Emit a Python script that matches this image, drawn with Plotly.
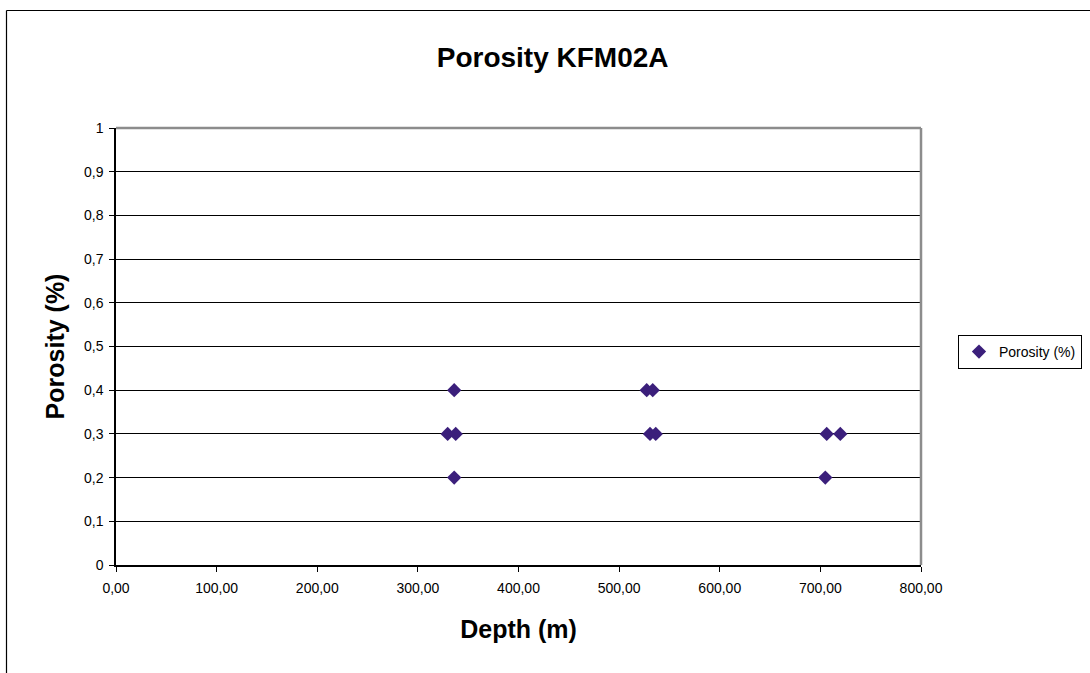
import plotly.graph_objects as go

# Data
depth_m = [336.1, 329.6, 337.6, 336.1, 527.4, 533.4, 530.7, 536.4, 706.3, 719.8, 704.9]
porosity_pct = [0.4, 0.3, 0.3, 0.2, 0.4, 0.4, 0.3, 0.3, 0.3, 0.3, 0.2]
series_name = "Porosity (%)"
chart_title = "Porosity KFM02A"
x_title = "Depth (m)"
y_title = "Porosity (%)"

W, H = 1090, 673
L, R, T, B = 116, 169, 128, 108
pw, ph = W - L - R, H - T - B

def px(xp):
    return (xp - L) / pw

def py(yp):
    return (H - B - yp) / ph

FONT = "Liberation Sans, Arial, sans-serif"
MARK = "#3B1F7B"

fig = go.Figure()
fig.add_trace(go.Scatter(
    x=depth_m, y=porosity_pct, mode="markers", name=series_name,
    marker=dict(symbol="diamond", size=11, color=MARK, line=dict(width=0)),
    showlegend=True,
))

fig.update_layout(
    width=W, height=H,
    margin=dict(l=L, r=R, t=T, b=B, autoexpand=False),
    paper_bgcolor="white", plot_bgcolor="white",
    separators=", ",
    font=dict(family=FONT, color="black", size=14),
    title=dict(text="<b>" + chart_title + "</b>", x=0.507, xref="container", xanchor="center",
               y=1 - 57 / H, yref="container", yanchor="middle",
               font=dict(size=28, family=FONT, color="black")),
    showlegend=True,
    legend=dict(x=px(958), y=py(335), xanchor="left", yanchor="top",
                bordercolor="black", borderwidth=1, bgcolor="white",
                font=dict(size=14, family=FONT, color="black"),
                itemwidth=30, tracegroupgap=0),
)

fig.update_xaxes(
    range=[0, 800], dtick=100, tick0=0, tickformat=".2f",
    showgrid=False, zeroline=False,
    showline=True, linecolor="black", linewidth=1.5,
    ticks="outside", ticklen=5, tickcolor="black", tickwidth=1,
    ticklabelstandoff=4,
    tickfont=dict(size=14, family=FONT, color="black"),
    title=dict(text="<b>" + x_title + "</b>", font=dict(size=25, family=FONT, color="black"), standoff=26),
    automargin=False,
)
fig.update_yaxes(
    range=[0, 1], dtick=0.1, tick0=0,
    showgrid=True, gridcolor="black", gridwidth=1,
    zeroline=False,
    showline=True, linecolor="black", linewidth=1.5,
    ticks="outside", ticklen=5, tickcolor="black", tickwidth=1,
    ticklabelstandoff=3,
    tickfont=dict(size=14, family=FONT, color="black"),
    title=dict(text="<b>" + y_title + "</b>", font=dict(size=25, family=FONT, color="black"), standoff=12),
    automargin=False,
)

# gray top and right plot border
fig.add_shape(type="line", xref="paper", yref="paper", x0=0, x1=1, y0=1, y1=1,
              line=dict(color="#8c8c8c", width=2.5), layer="above")
fig.add_shape(type="line", xref="paper", yref="paper", x0=1, x1=1, y0=0, y1=1,
              line=dict(color="#8c8c8c", width=2.5), layer="above")
# outer chart frame (left and top edges visible)
fig.add_shape(type="line", xref="paper", yref="paper", x0=px(6.5), x1=px(6.5), y0=py(700), y1=py(10.5),
              line=dict(color="black", width=1.2), layer="above")
fig.add_shape(type="line", xref="paper", yref="paper", x0=px(6.5), x1=px(1100), y0=py(10.5), y1=py(10.5),
              line=dict(color="black", width=1.2), layer="above")

fig.write_html("out.html")
